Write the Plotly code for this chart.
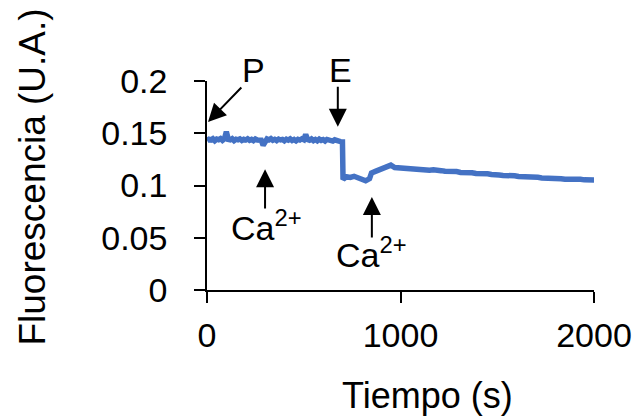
import plotly.graph_objects as go

# Time (s) and fluorescence (A.U.)
tiempo = [0, 10, 20, 30, 40, 50, 60, 70, 80, 90, 100, 110, 120, 130, 140, 150, 160, 170,
          180, 190, 200, 210, 220, 230, 240, 250, 260, 270, 280, 290, 300, 310, 320, 330,
          340, 350, 360, 370, 380, 390, 400, 410, 420, 430, 440, 450, 460, 470, 480, 490,
          500, 510, 520, 530, 540, 550, 560, 570, 580, 590, 600, 610, 620, 630, 640, 650,
          660, 670, 680, 690, 700,
          703, 720, 740, 760, 780, 800, 820, 840, 850, 870,
          890, 910, 930, 950, 970, 990, 1010, 1030, 1050, 1070, 1090, 1110, 1130,
          1150, 1170, 1190, 1210, 1230, 1250, 1270, 1290, 1310, 1330, 1350, 1370,
          1390, 1410, 1430, 1450, 1470, 1490, 1510, 1530, 1550, 1570, 1590, 1610,
          1630, 1650, 1670, 1690, 1710, 1730, 1750, 1770, 1790, 1810, 1830, 1850,
          1870, 1890, 1910, 1930, 1950, 1970, 1990, 2000]
fluorescencia = [0.1430, 0.1442, 0.1436, 0.1447, 0.1428, 0.1444, 0.1438, 0.1449, 0.1432,
                 0.1446, 0.1515, 0.1440, 0.1436, 0.1448, 0.1430, 0.1443, 0.1437, 0.1446,
                 0.1431, 0.1442, 0.1435, 0.1447, 0.1433, 0.1441, 0.1429, 0.1445, 0.1436,
                 0.1440, 0.1434, 0.1385, 0.1432, 0.1445, 0.1437, 0.1448, 0.1433, 0.1442,
                 0.1430, 0.1444, 0.1436, 0.1441, 0.1428, 0.1443, 0.1434, 0.1446, 0.1431,
                 0.1440, 0.1427, 0.1442, 0.1435, 0.1447, 0.1438, 0.1488, 0.1440, 0.1433,
                 0.1445, 0.1430, 0.1441, 0.1428, 0.1444, 0.1432, 0.1439, 0.1426, 0.1441,
                 0.1433, 0.1438, 0.1425, 0.1437, 0.1428, 0.1432, 0.1420, 0.1418,
                 0.1058, 0.1085, 0.1078, 0.1088, 0.1075, 0.1070, 0.1045, 0.1065, 0.1120,
                 0.1135, 0.1150, 0.1160, 0.1170, 0.1195, 0.1172, 0.1168, 0.1162, 0.1165,
                 0.1158, 0.1160, 0.1152, 0.1155, 0.1148, 0.1146, 0.1150, 0.1140, 0.1142,
                 0.1136, 0.1138, 0.1130, 0.1133, 0.1125, 0.1128, 0.1120, 0.1122, 0.1115,
                 0.1118, 0.1110, 0.1112, 0.1105, 0.1108, 0.1100, 0.1096, 0.1098, 0.1090,
                 0.1093, 0.1086, 0.1087, 0.1082, 0.1083, 0.1077, 0.1078, 0.1072, 0.1073,
                 0.1068, 0.1069, 0.1064, 0.1065, 0.1060, 0.1062, 0.1058, 0.1056, 0.1059,
                 0.1054, 0.1056, 0.1051, 0.1053]

x_ticks = [0, 1000, 2000]
y_ticks = [0, 0.05, 0.1, 0.15, 0.2]
y_tick_labels = ["0", "0.05", "0.1", "0.15", "0.2"]

FONT = "Liberation Sans, Arial, sans-serif"
FS = 34
TFS = 36
YTFS = 37

fig = go.Figure()
fig.add_trace(go.Scatter(x=tiempo, y=fluorescencia, mode="lines",
                         line=dict(color="#4472C4", width=5.5), showlegend=False))

arrow = dict(showarrow=True, arrowhead=2, arrowsize=1.8, arrowwidth=2,
             arrowcolor="black", axref="x", ayref="y", xref="x", yref="y", text="")
anns = [
    dict(x=5, y=0.1608, ax=185, ay=0.1952, **arrow),
    dict(x=676, y=0.1563, ax=676, ay=0.196, **arrow),
    dict(x=300, y=0.1155, ax=300, ay=0.0766, **arrow),
    dict(x=852, y=0.089, ax=852, ay=0.0488, **arrow),
]
txt = dict(showarrow=False, xref="x", yref="y", xanchor="center", yanchor="middle",
           font=dict(family=FONT, size=FS, color="black"))
ptxt = dict(showarrow=False, xref="paper", yref="paper", xanchor="center", yanchor="middle",
            font=dict(family=FONT, size=FS, color="black"))
anns += [
    dict(x=0.1189, y=1.0526, text="P", **ptxt),
    dict(x=0.3437, y=1.0526, text="E", **ptxt),
    dict(x=305, y=0.062, text="Ca<sup>2+</sup>", **txt),
    dict(x=848, y=0.036, text="Ca<sup>2+</sup>", **txt),
    dict(x=-0.4496, y=0.538, xref="paper", yref="paper", text="Fluorescencia (U.A.)",
         textangle=-90, showarrow=False, xanchor="center", yanchor="middle",
         font=dict(family=FONT, size=YTFS, color="black")),
    dict(x=0.571, y=-0.503, xref="paper", yref="paper", text="Tiempo (s)",
         showarrow=False, xanchor="center", yanchor="middle",
         font=dict(family=FONT, size=TFS, color="black")),
]

fig.update_layout(
    width=639, height=419,
    margin=dict(l=207, r=45, t=81, b=129, autoexpand=False),
    paper_bgcolor="white", plot_bgcolor="white",
    font=dict(family=FONT, size=FS, color="black"),
    annotations=anns,
    xaxis=dict(range=[0, 2000], tickvals=x_ticks, showgrid=False, zeroline=False,
               showline=True, linecolor="black", linewidth=1.5, automargin=False,
               ticks="outside", ticklen=11, tickwidth=1.5, tickcolor="black",
               ticklabelstandoff=3),
    yaxis=dict(range=[0, 0.2], tickvals=y_ticks, ticktext=y_tick_labels, showgrid=False,
               zeroline=False, showline=True, linecolor="black", linewidth=1.5,
               automargin=False,
               ticks="outside", ticklen=11, tickwidth=1.5, tickcolor="black",
               ticklabelstandoff=20),
)

fig.write_html("out.html")
